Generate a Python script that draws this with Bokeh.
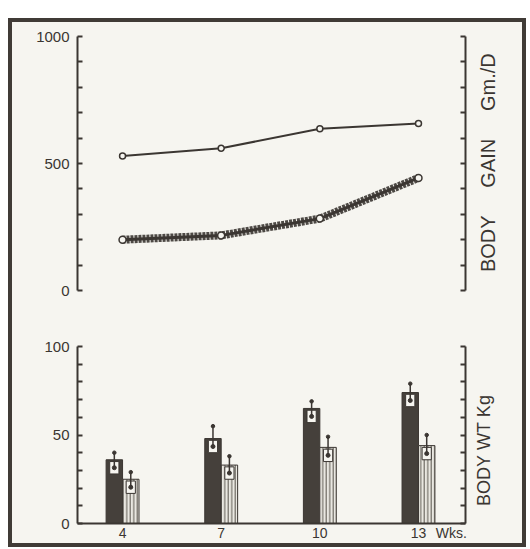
import math
from bokeh.plotting import figure
from bokeh.layouts import column, row
from bokeh.models import LinearAxis, Range1d, FixedTicker, ColumnDataSource
from bokeh.core.properties import value
from bokeh.transform import dodge
from bokeh.embed import file_html
from bokeh.resources import INLINE

# ---------------- data ----------------
weeks = [4, 7, 10, 13]
gain_upper = [530, 560, 637, 657]      # Gm./D, thin line
gain_lower = [200, 217, 283, 443]      # Gm./D, thick line
wt_dark = [36, 48, 65, 74]             # Kg, dark bars
wt_dark_err = [4, 7, 4, 5]
wt_light = [25, 33, 43, 44]            # Kg, striped bars
wt_light_err = [4, 5, 6, 6]

gain_ticks = [0, 100, 200, 300, 400, 500, 600, 700, 800, 900, 1000]
gain_tick_labels = {0: "0", 500: "500", 1000: "1000"}
wt_ticks = [0, 10, 20, 30, 40, 50, 60, 70, 80, 90, 100]
wt_tick_labels = {0: "0", 50: "50", 100: "100"}
week_ticks = [4, 7, 10, 13, 14]
week_tick_labels = {4: "4", 7: "7", 10: "10", 13: "13", 14: "Wks."}

NB = "\u00a0"
top_axis_title = "BODY" + NB * 5 + "GAIN" + NB * 5 + "Gm./D"
bot_axis_title = "BODY" + NB + "WT" + NB + "Kg"

# ---------------- style ----------------
INK = "#3b3632"
PAPER = "#f6f5f0"
FONT = "Liberation Sans"
W_MAIN = 461
W_STRIP = 49
XR = (2.63, 14.43)


def style_axis(ax, ticks, labels, font_size="15px"):
    ax.ticker = FixedTicker(ticks=ticks)
    ax.major_label_overrides = {t: labels.get(t, "") for t in ticks}
    ax.major_tick_in = 5
    ax.major_tick_out = 0
    ax.minor_tick_line_color = None
    ax.axis_line_color = INK
    ax.axis_line_width = 2
    ax.major_tick_line_color = INK
    ax.major_tick_line_width = 2
    ax.major_label_text_font = FONT
    ax.major_label_text_font_size = font_size
    ax.major_label_text_color = INK
    ax.major_label_standoff = 8


def title_strip(height, text, sx, sy, size):
    s = figure(width=W_STRIP, height=height, output_backend="svg", toolbar_location=None,
               x_range=Range1d(0, W_STRIP), y_range=Range1d(0, height),
               x_axis_location=None, y_axis_location=None,
               min_border_left=0, min_border_right=0, min_border_top=0, min_border_bottom=0,
               background_fill_color=PAPER, border_fill_color=PAPER)
    s.outline_line_color = None
    s.grid.visible = False
    s.text(x=[sx], y=[sy], text=[text], angle=math.pi / 2,
           text_align="center", text_baseline="middle",
           text_font=value(FONT), text_font_size=value(size), text_color=INK)
    return s


# ---------------- top panel: body gain ----------------
top = figure(width=W_MAIN, height=300, output_backend="svg", toolbar_location=None,
             x_range=Range1d(*XR), y_range=Range1d(0, 1000),
             min_border_left=65, min_border_right=8, min_border_top=14,
             min_border_bottom=32, x_axis_location=None,
             background_fill_color=PAPER, border_fill_color=PAPER)
top.outline_line_color = None
top.grid.visible = False
style_axis(top.yaxis[0], gain_ticks, gain_tick_labels)
r_top = LinearAxis()
style_axis(r_top, gain_ticks, {})
r_top.major_label_standoff = 0
top.add_layout(r_top, "right")

src_g = ColumnDataSource(dict(weeks=weeks, upper=gain_upper, lower=gain_lower))
top.line("weeks", "lower", source=src_g, line_width=8, line_color=INK,
         line_dash="3 1", line_alpha=0.9)
top.line("weeks", "lower", source=src_g, line_width=3, line_color=INK)
top.scatter("weeks", "lower", source=src_g, size=7, fill_color=PAPER,
            line_color=INK, line_width=1.5)
top.line("weeks", "upper", source=src_g, line_width=2, line_color=INK)
top.scatter("weeks", "upper", source=src_g, size=6, fill_color=PAPER,
            line_color=INK, line_width=1.5)
top_title = title_strip(300, top_axis_title, 14, 151, "20px")

# ---------------- bottom panel: body weight ----------------
bot = figure(width=W_MAIN, height=221, output_backend="svg", toolbar_location=None,
             x_range=Range1d(*XR), y_range=Range1d(0, 100),
             min_border_left=65, min_border_right=8, min_border_top=24,
             min_border_bottom=20,
             background_fill_color=PAPER, border_fill_color=PAPER)
bot.outline_line_color = None
bot.grid.visible = False
style_axis(bot.yaxis[0], wt_ticks, wt_tick_labels)
style_axis(bot.xaxis[0], week_ticks, week_tick_labels, "14px")
bot.xaxis[0].major_tick_in = 0
bot.xaxis[0].major_label_standoff = 1
r_bot = LinearAxis()
style_axis(r_bot, wt_ticks, {})
r_bot.major_label_standoff = 0
bot.add_layout(r_bot, "right")
bot_title = title_strip(221, bot_axis_title, 10, 91, "18px")

src_w = ColumnDataSource(dict(
    weeks=weeks, dark=wt_dark, light=wt_light,
    dark_box_top=[v - 1 for v in wt_dark], dark_box_bot=[v - 8 for v in wt_dark],
    dark_mid=[v - 4.5 for v in wt_dark], dark_hi=[v + e for v, e in zip(wt_dark, wt_dark_err)],
    light_box_top=[v - 1 for v in wt_light], light_box_bot=[v - 8 for v in wt_light],
    light_mid=[v - 4.5 for v in wt_light], light_hi=[v + e for v, e in zip(wt_light, wt_light_err)],
))
xd = dodge("weeks", -0.25, range=bot.x_range)
xl = dodge("weeks", 0.25, range=bot.x_range)
bot.vbar(x=xd, top="dark", bottom=0, width=0.5, source=src_w,
         fill_color="#45403b", line_color=INK, line_width=1)
bot.vbar(x=xl, top="light", bottom=0, width=0.5, source=src_w,
         fill_color="#e9e7e1", line_color=INK, line_width=1,
         hatch_pattern="|", hatch_color="#5a554f", hatch_scale=3.5, hatch_weight=1)
for x, tcol, bcol, mcol, hcol in [(xd, "dark_box_top", "dark_box_bot", "dark_mid", "dark_hi"),
                                  (xl, "light_box_top", "light_box_bot", "light_mid", "light_hi")]:
    bot.vbar(x=x, top=tcol, bottom=bcol, width=0.28, source=src_w,
             fill_color=PAPER, line_color=INK, line_width=1)
    bot.segment(x0=x, y0=mcol, x1=x, y1=hcol, source=src_w, line_color=INK, line_width=1.5)
    bot.scatter(x=x, y=mcol, source=src_w, size=4, fill_color=INK, line_color=INK)
    bot.scatter(x=x, y=hcol, source=src_w, size=3.5, fill_color=INK, line_color=INK)

layout = column(row(top, top_title), row(bot, bot_title), margin=(18, 0, 0, 8),
                styles={"border": "4px solid #403b36", "background-color": PAPER})

open("out.html", "w").write(file_html(layout, INLINE))
